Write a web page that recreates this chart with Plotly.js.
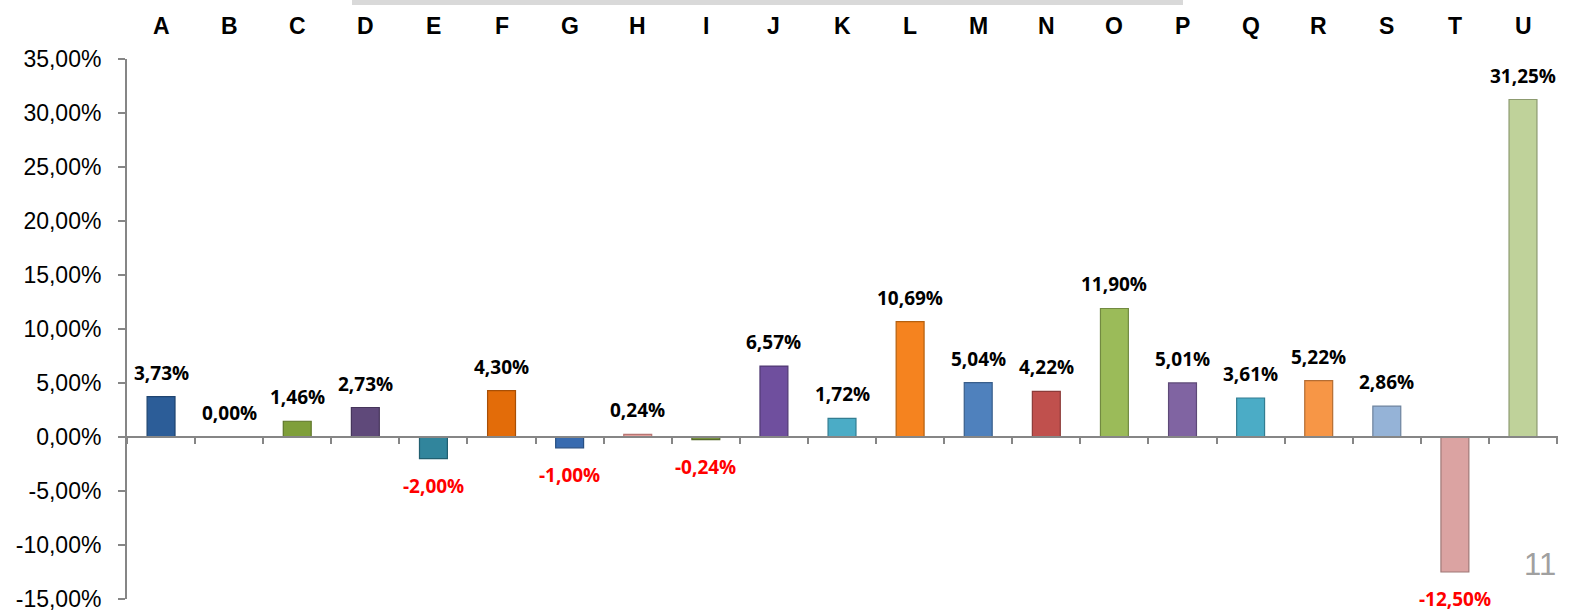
<!DOCTYPE html>
<html>
<head>
<meta charset="utf-8">
<script src="https://cdn.plot.ly/plotly-3.0.1.min.js"></script>
<style>
    html, body { margin: 0; padding: 0; background: #fff; }
    #chart { width: 1576px; height: 613px; }
</style>
</head>
<body>
<div id="chart"></div>
<script>
const categories = ["A", "B", "C", "D", "E", "F", "G", "H", "I", "J", "K",
    "L", "M", "N", "O", "P", "Q", "R", "S", "T", "U"];
const values = [3.73, 0.00, 1.46, 2.73, -2.00, 4.30, -1.00, 0.24, -0.24, 6.57, 1.72,
    10.69, 5.04, 4.22, 11.90, 5.01, 3.61, 5.22, 2.86, -12.50, 31.25];
const barColors = ["#2c5d98", "#2c5d98", "#7f9f3a", "#5f497a", "#31859c", "#e36c09", "#386bb0",
    "#e39d9a", "#76923c", "#6f4f9e", "#4bacc6", "#f5831f", "#4f81bd", "#c0504d", "#9bbb59",
    "#8064a2", "#4bacc6", "#f79646", "#95b3d7", "#dba3a2", "#bfd29a"];
const edgeColors = ["#1f4470", "#1f4470", "#5e7629", "#45355a", "#215f70", "#a84f06", "#284f82",
    "#b87572", "#56692b", "#503973", "#337d91", "#b5600f", "#385e8b", "#8c3a38", "#728a41",
    "#5d4977", "#337d91", "#b56d33", "#6d839e", "#a07877", "#8d9b70"];
const yTicks = [35, 30, 25, 20, 15, 10, 5, 0, -5, -10, -15];

// french style: 3,73%
const fmt = v => v.toFixed(2).replace(".", ",") + "%";

const annotations = [];
categories.forEach((c, i) => {
    // category names along the top
    annotations.push({
        x: c, xref: "x", y: 1, yref: "paper", yanchor: "bottom", yshift: 18,
        text: c, showarrow: false,
        font: { family: "Liberation Sans, Arial, sans-serif", size: 23, color: "#000", weight: "bold" }
    });
    const v = values[i];
    const neg = v < 0;
    annotations.push({
        x: c, xref: "x", y: v, yref: "y",
        yanchor: neg ? "top" : "bottom", yshift: neg ? -12 : 9,
        text: "<b>" + fmt(v) + "</b>", showarrow: false,
        font: { family: "Open Sans, sans-serif", size: 19, color: neg ? "#ff0000" : "#000" }
    });
});
// page number, bottom right
annotations.push({
    x: 1.0, xref: "paper", y: 0.063, yref: "paper", xanchor: "right", yanchor: "middle",
    text: "11", showarrow: false,
    font: { family: "Liberation Sans, sans-serif", size: 31, color: "#a0a0a0" }
});

const trace = {
    type: "bar",
    x: categories,
    y: values,
    width: 0.41,
    marker: { color: barColors, line: { color: edgeColors, width: 1.2 } },
    hoverinfo: "x+y"
};

Plotly.newPlot("chart", [trace], {
    width: 1576,
    height: 613,
    margin: { l: 127, r: 18, t: 59, b: 14 },
    paper_bgcolor: "#fff",
    plot_bgcolor: "#fff",
    showlegend: false,
    xaxis: {
        type: "category",
        anchor: "free",
        position: 0.3, // y = 0 in a -15..35 range
        showline: true,
        linecolor: "#868686",
        linewidth: 2,
        ticks: "outside",
        tickson: "boundaries",
        ticklen: 6,
        tickwidth: 2,
        tickcolor: "#868686",
        showticklabels: false,
        showgrid: false,
        zeroline: false
    },
    yaxis: {
        range: [-15, 35],
        tickvals: yTicks,
        ticktext: yTicks.map(fmt),
        showline: true,
        linecolor: "#868686",
        linewidth: 2,
        ticks: "outside",
        ticklen: 7,
        tickwidth: 2,
        tickcolor: "#868686",
        ticklabelstandoff: 12,
        showgrid: false,
        zeroline: false,
        ticklabeloverflow: "allow",
        tickfont: { family: "Liberation Sans, Arial, sans-serif", size: 23, color: "#000" }
    },
    shapes: [{
        type: "rect", xref: "paper", yref: "paper",
        x0: (352 - 127) / 1431, x1: (1183 - 127) / 1431,
        y0: 1 + 54 / 540, y1: 1 + 59 / 540,
        fillcolor: "#d9d9d9", line: { width: 0 }
    }],
    annotations: annotations
}, { displayModeBar: false, staticPlot: true });
</script>
</body>
</html>
